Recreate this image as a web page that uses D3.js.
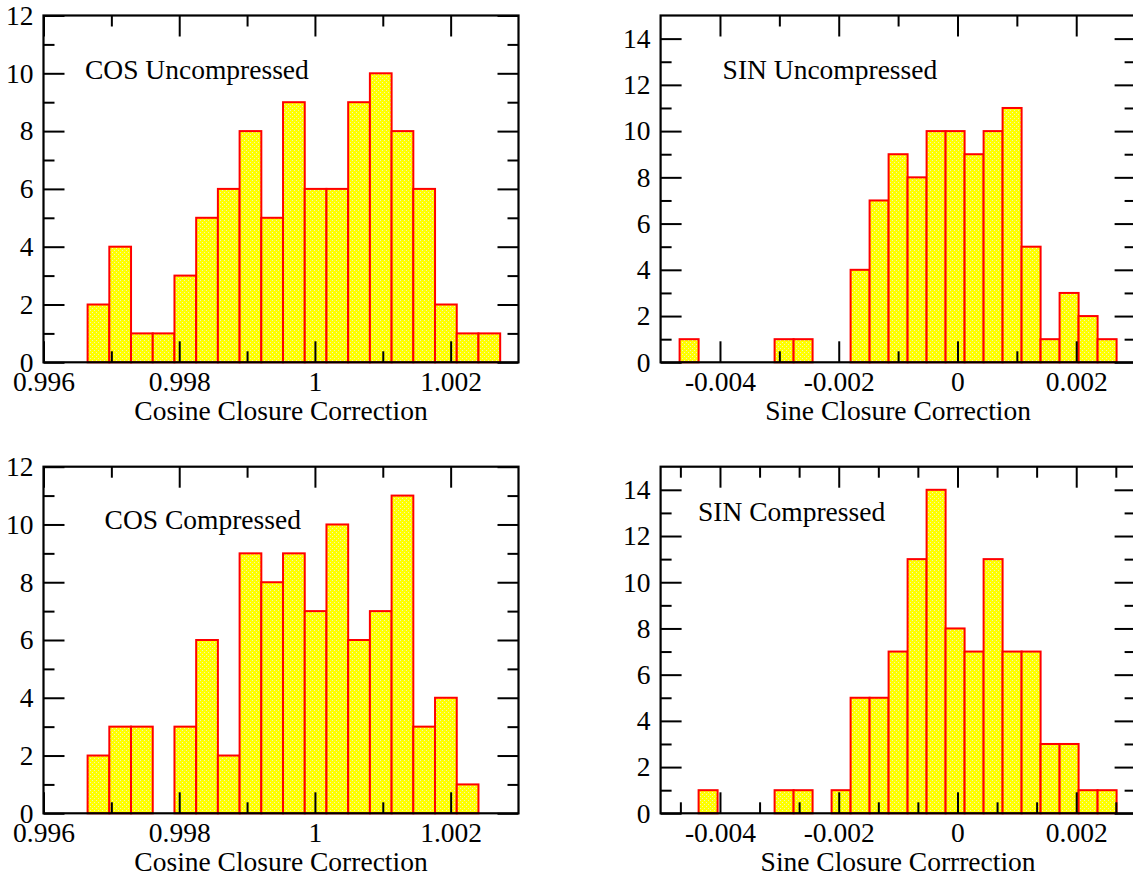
<!DOCTYPE html>
<html>
<head>
<meta charset="utf-8">
<script src="https://cdn.jsdelivr.net/npm/d3@7"></script>
<style>
  html, body { margin: 0; padding: 0; background: #fff; }
  svg text { font-family: "Liberation Serif", Tinos, "DejaVu Serif", serif !important; font-size: 27.5px !important; fill: #000; }
  .axis path.domain { display: none; }
  .axis line { stroke: #000; stroke-width: 2; }
</style>
</head>
<body>
<svg id="chart" width="1133" height="878"></svg>
<script>
// bin layout (lower edge of first bin, bin width)
var cosBinStart = 0.99665;
var sinUncBinStart = -0.00468;
var sinCmpBinStart = -0.00436;
var binWidth = 0.00032;

// counts per bin
var cosUncompressed = [2, 4, 1, 1, 3, 5, 6, 8, 5, 9, 6, 6, 9, 10, 8, 6, 2, 1, 1];
var cosCompressed = [2, 3, 3, 0, 3, 6, 2, 9, 8, 9, 7, 10, 6, 7, 11, 3, 4, 1];
var sinUncompressed = [1, 0, 0, 0, 0, 1, 1, 0, 0, 4, 7, 9, 8, 10, 10, 9, 10, 11, 5, 1, 3, 2, 1];
var sinCompressed = [1, 0, 0, 0, 1, 1, 0, 1, 5, 5, 7, 11, 14, 8, 7, 11, 7, 7, 3, 3, 1, 1];

// axes
var cosDomain = [0.996, 1.003];
var sinDomain = [-0.005, 0.003];
var cosTicks = [0.996, 0.998, 1, 1.002];
var cosTickLabels = ['0.996', '0.998', '1', '1.002'];
var cosMinor = [0.997, 0.999, 1.001];
var sinTicks = [-0.004, -0.002, 0, 0.002];
var sinTickLabels = ['-0.004', '-0.002', '0', '0.002'];
var sinMinorUnc = [-0.003, -0.001, 0.001];
var sinMinorCmp = [-0.004667, -0.003333, -0.002667, -0.001333, -0.000667, 0.000667, 0.001333, 0.002667];
var cosYTicks = [0, 2, 4, 6, 8, 10, 12];
var cosYMinor = [1, 3, 5, 7, 9, 11];
var sinYTicks = [0, 2, 4, 6, 8, 10, 12, 14];
var sinYMinor = [1, 3, 5, 7, 9, 11, 13];

var svg = d3.select('#chart');

var pattern = svg.append('defs')
  .append('pattern')
    .attr('id', 'fillDots')
    .attr('width', 4)
    .attr('height', 4)
    .attr('patternUnits', 'userSpaceOnUse');

pattern.append('rect')
    .attr('width', 4)
    .attr('height', 4)
    .attr('fill', '#ffff00');

pattern.selectAll('.dot')
    .data([[0, 0], [2, 2]])
    .enter()
  .append('rect')
    .attr('x', function (d) { return d[0]; })
    .attr('y', function (d) { return d[1]; })
    .attr('width', 1)
    .attr('height', 1)
    .attr('fill', '#f2f2b8');

function panel(opts) {

  var x = d3.scaleLinear().domain(opts.xDomain).range([opts.left, opts.right]);
  var y = d3.scaleLinear().domain(opts.yDomain).range([opts.bottom, opts.top]);

  var bins = opts.counts.map(function (c, i) {
    return {
      x0: opts.binStart + i * binWidth,
      x1: opts.binStart + (i + 1) * binWidth,
      count: c
    };
  }).filter(function (d) { return d.count > 0; });

  svg.append('g')
    .selectAll('rect')
      .data(bins)
      .enter()
    .append('rect')
      .attr('x', function (d) { return x(d.x0); })
      .attr('y', function (d) { return y(d.count); })
      .attr('width', function (d) { return x(d.x1) - x(d.x0); })
      .attr('height', function (d) { return y(0) - y(d.count); })
      .attr('fill', 'url(#fillDots)')
      .attr('stroke', '#ff0000')
      .attr('stroke-width', 2);

  var major = 21, minor = 11;

  function addAxis(axis, tx, ty) {
    svg.append('g')
        .attr('class', 'axis')
        .attr('transform', 'translate(' + tx + ',' + ty + ')')
        .call(axis);
  }

  // bottom, with labels
  addAxis(d3.axisBottom(x).tickValues(opts.xTicks)
    .tickFormat(function (d, i) { return opts.xLabels[i]; })
    .tickSize(-major).tickPadding(9), 0, opts.bottom);
  addAxis(d3.axisBottom(x).tickValues(opts.xMinor).tickFormat('').tickSize(-minor), 0, opts.bottom);
  // top
  addAxis(d3.axisTop(x).tickValues(opts.xTicks).tickFormat('').tickSize(-major), 0, opts.top);
  addAxis(d3.axisTop(x).tickValues(opts.xMinor).tickFormat('').tickSize(-minor), 0, opts.top);
  // left, with labels
  addAxis(d3.axisLeft(y).tickValues(opts.yTicks).tickFormat(d3.format('d'))
    .tickSize(-major).tickPadding(10), opts.left, 0);
  addAxis(d3.axisLeft(y).tickValues(opts.yMinor).tickFormat('').tickSize(-minor), opts.left, 0);
  // right
  addAxis(d3.axisRight(y).tickValues(opts.yTicks).tickFormat('').tickSize(-major), opts.right, 0);
  addAxis(d3.axisRight(y).tickValues(opts.yMinor).tickFormat('').tickSize(-minor), opts.right, 0);

  svg.append('rect')
      .attr('x', opts.left)
      .attr('y', opts.top)
      .attr('width', opts.right - opts.left)
      .attr('height', opts.bottom - opts.top)
      .attr('fill', 'none')
      .attr('stroke', '#000')
      .attr('stroke-width', 2.2);

  svg.append('text')
      .attr('x', opts.noteX)
      .attr('y', opts.noteY)
      .text(opts.note);

  svg.append('text')
      .attr('x', (opts.left + opts.right) / 2)
      .attr('y', opts.bottom + 58)
      .attr('text-anchor', 'middle')
      .text(opts.title);
}

panel({
  left: 43.5, right: 518.5, top: 15.5, bottom: 362.3,
  xDomain: cosDomain, yDomain: [0, 12],
  xTicks: cosTicks, xLabels: cosTickLabels, xMinor: cosMinor,
  yTicks: cosYTicks, yMinor: cosYMinor,
  binStart: cosBinStart, counts: cosUncompressed,
  note: 'COS Uncompressed', noteX: 85, noteY: 79,
  title: 'Cosine Closure Correction'
});

panel({
  left: 660.6, right: 1135.6, top: 15.5, bottom: 362.3,
  xDomain: sinDomain, yDomain: [0, 15],
  xTicks: sinTicks, xLabels: sinTickLabels, xMinor: sinMinorUnc,
  yTicks: sinYTicks, yMinor: sinYMinor,
  binStart: sinUncBinStart, counts: sinUncompressed,
  note: 'SIN Uncompressed', noteX: 722.6, noteY: 79,
  title: 'Sine Closure Correction'
});

panel({
  left: 43.5, right: 518.5, top: 466.7, bottom: 813.3,
  xDomain: cosDomain, yDomain: [0, 12],
  xTicks: cosTicks, xLabels: cosTickLabels, xMinor: cosMinor,
  yTicks: cosYTicks, yMinor: cosYMinor,
  binStart: cosBinStart, counts: cosCompressed,
  note: 'COS Compressed', noteX: 104.6, noteY: 529,
  title: 'Cosine Closure Correction'
});

panel({
  left: 660.6, right: 1135.6, top: 466.7, bottom: 813.3,
  xDomain: sinDomain, yDomain: [0, 15],
  xTicks: sinTicks, xLabels: sinTickLabels, xMinor: sinMinorCmp,
  yTicks: sinYTicks, yMinor: sinYMinor,
  binStart: sinCmpBinStart, counts: sinCompressed,
  note: 'SIN Compressed', noteX: 698, noteY: 521,
  title: 'Sine Closure Corrrection'
});
</script>
</body>
</html>
